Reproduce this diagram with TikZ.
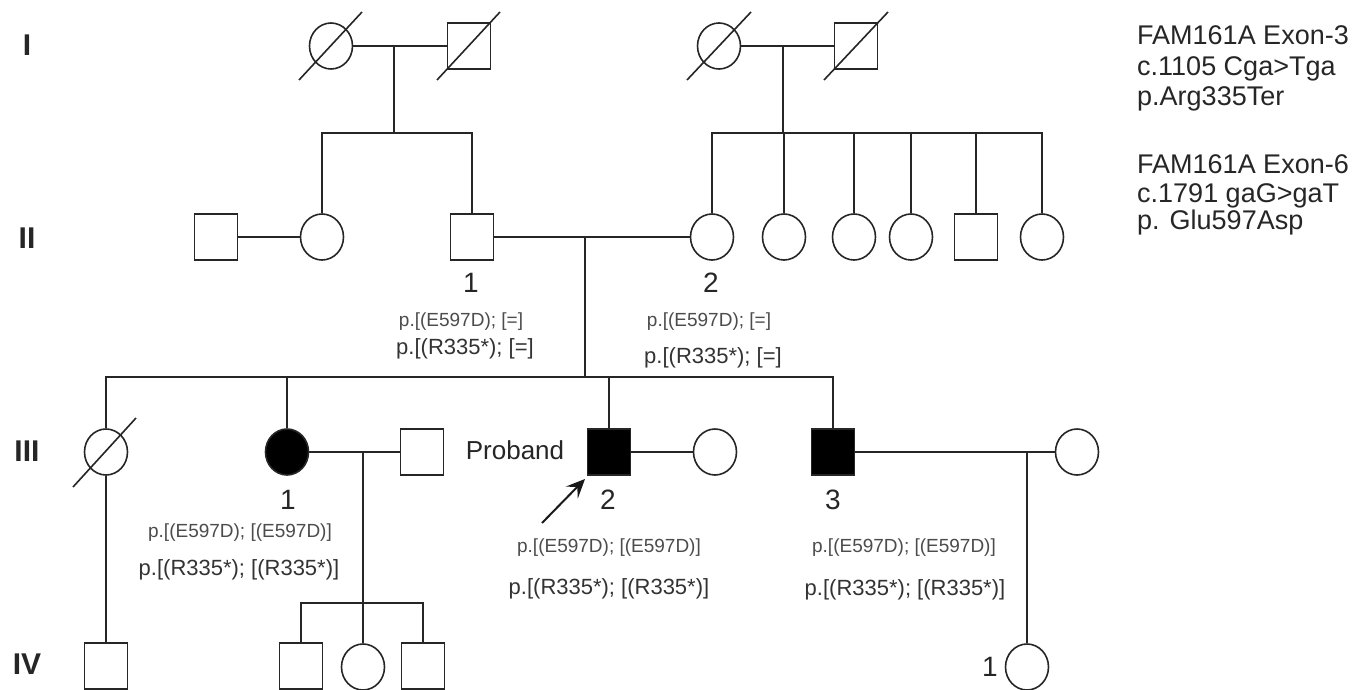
\documentclass[tikz,border=0pt]{standalone}
\usepackage{fontspec}
\setmainfont{Liberation Sans}
\usetikzlibrary{shapes.geometric,arrows.meta,calc}
\begin{document}
\begin{tikzpicture}[x=1pt,y=-1pt,
  pl/.style={line width=1.6pt, draw=black!85},
  fem/.style={ellipse, draw=black!85, line width=1.6pt, minimum width=43pt, minimum height=46pt, inner sep=0pt},
  mal/.style={rectangle, draw=black!85, line width=1.6pt, minimum width=43pt, minimum height=46pt, inner sep=0pt},
  aff/.style={fill=black},
  gen/.style={font=\bfseries\fontsize{30}{30}\selectfont, text=black!85},
  num/.style={font=\fontsize{28}{28}\selectfont, text=black!85},
  geno/.style={font=\fontsize{19}{19}\selectfont, text=black!70},
  genr/.style={font=\fontsize{22}{22}\selectfont, text=black!80},
  lab/.style={font=\fontsize{26}{26}\selectfont, text=black!85},
  info/.style={font=\fontsize{27}{27}\selectfont, text=black!85, anchor=base west, inner sep=0pt}
]
\useasboundingbox[fill=white] (0,0) rectangle (1368,690);

% generation labels
\node[gen] (gI) at (27,45) {I};
\node[gen] (gII) at (27,238) {II};
\node[gen] (gIII) at (27,451) {III};
\node[gen] (gIV) at (27,664) {IV};

% Generation I
\node[fem] (I1) at (331,46) {};
\node[mal] (I2) at (469,46) {};
\node[fem] (I3) at (719,46) {};
\node[mal] (I4) at (856,46) {};
\draw[pl] ($(I1)+(-32,34)$) -- ($(I1)+(31,-34)$);
\draw[pl] ($(I2)+(-32,34)$) -- ($(I2)+(31,-34)$);
\draw[pl] ($(I3)+(-32,34)$) -- ($(I3)+(32,-34)$);
\draw[pl] ($(I4)+(-32,34)$) -- ($(I4)+(32,-34)$);

% Generation II
\node[mal] (IIa) at (216,237) {};
\node[fem] (IIb) at (322,237) {};
\node[mal] (II1) at (472,237) {};
\node[fem] (II2) at (712,237) {};
\node[fem] (II3) at (784,237) {};
\node[fem] (II4) at (854,237) {};
\node[fem] (II5) at (911,237) {};
\node[mal] (II6) at (976,237) {};
\node[fem] (II7) at (1042,237) {};

\coordinate (m1) at (394,46);
\coordinate (s1) at (394,133);
\draw[pl] (I1.east) -- (I2.west);
\draw[pl] (m1) -- (s1);
\draw[pl] (IIb.north) |- (s1) -| (II1.north);

\coordinate (m2) at (783,46);
\coordinate (s2) at (783,133);
\draw[pl] (I3.east) -- (I4.west);
\draw[pl] (m2) -- (s2);
\draw[pl] (II2.north) |- (s2) -| (II7.north);
\draw[pl] (II3.north) -- (II3.north |- s2);
\draw[pl] (II4.north) -- (II4.north |- s2);
\draw[pl] (II5.north) -- (II5.north |- s2);
\draw[pl] (II6.north) -- (II6.north |- s2);

\draw[pl] (IIa.east) -- (IIb.west);
\draw[pl] (II1.east) -- (II2.west);

% labels gen II
\node[num] (n21) at (471,283) {1};
\node[num] (n22) at (711,283) {2};
\node[geno] (g21a) at (461,322) {p.[(E597D); [=]};
\node[genr] (g21b) at (465,349) {p.[(R335*); [=]};
\node[geno] (g22a) at (709,322) {p.[(E597D); [=]};
\node[genr] (g22b) at (713,358) {p.[(R335*); [=]};

% Generation III
\coordinate (m3) at (585,237);
\coordinate (s3) at (585,377);
\node[fem] (IIIa) at (106,452) {};
\node[fem,aff] (III1) at (287,452) {};
\node[mal] (S1) at (422,452) {};
\node[mal,aff] (III2) at (609,452) {};
\node[fem] (W2) at (715,452) {};
\node[mal,aff] (III3) at (833,452) {};
\node[fem] (W3) at (1077,452) {};
\draw[pl] ($(IIIa)+(-33,35)$) -- ($(IIIa)+(30,-34)$);

\draw[pl] (m3) -- (s3);
\draw[pl] (IIIa.north) |- (s3) -| (III3.north);
\draw[pl] (III1.north) -- (III1.north |- s3);
\draw[pl] (III2.north) -- (III2.north |- s3);

\draw[pl] (III1.east) -- (S1.west);
\draw[pl] (III2.east) -- (W2.west);
\draw[pl] (III3.east) -- (W3.west);

\node[lab] (prob) at (515,450) {Proband};
\coordinate (arrtail) at (542,523);
\coordinate (arrtip) at (585,479);
\draw[line width=2pt, draw=black!90, -{Stealth[length=19pt,width=17pt,inset=8pt]}] (arrtail) -- (arrtip);

\node[num] (n31) at (288,500) {1};
\node[num] (n32) at (608,500) {2};
\node[num] (n33) at (833,500) {3};
\node[geno] (g31a) at (240,533) {p.[(E597D); [(E597D)]};
\node[genr] (g31b) at (239,570) {p.[(R335*); [(R335*)]};
\node[geno] (g32a) at (609,548) {p.[(E597D); [(E597D)]};
\node[genr] (g32b) at (609,589) {p.[(R335*); [(R335*)]};
\node[geno] (g33a) at (904,548) {p.[(E597D); [(E597D)]};
\node[genr] (g33b) at (905,590) {p.[(R335*); [(R335*)]};

% Generation IV
\node[mal] (IV1) at (106,666) {};
\node[mal] (IV2) at (301,666) {};
\node[fem] (IV3) at (363,667) {};
\node[mal] (IV4) at (423,666) {};
\node[fem] (IV5) at (1027,667) {};
\node[num] (n41) at (990,667) {1};

\draw[pl] (IIIa.south) -- (IV1.north);
\coordinate (m4) at (363,452);
\coordinate (s4) at (363,603);
\draw[pl] (m4) -- (IV3.north);
\draw[pl] (IV2.north) |- (s4) -| (IV4.north);
\coordinate (m5) at (1027,452);
\draw[pl] (m5) -- (IV5.north);

% info block
\node[info] (t1) at (1137,45) {FAM161A Exon-3};
\node[info] (t2) at (1137,76) {c.1105 Cga>Tga};
\node[info] (t3) at (1137,106) {p.Arg335Ter};
\node[info] (t4) at (1137,173) {FAM161A Exon-6};
\node[info] (t5) at (1137,202) {c.1791 gaG>gaT};
\node[info] (t6) at (1137,229) {p. Glu597Asp};
\end{tikzpicture}
\end{document}
